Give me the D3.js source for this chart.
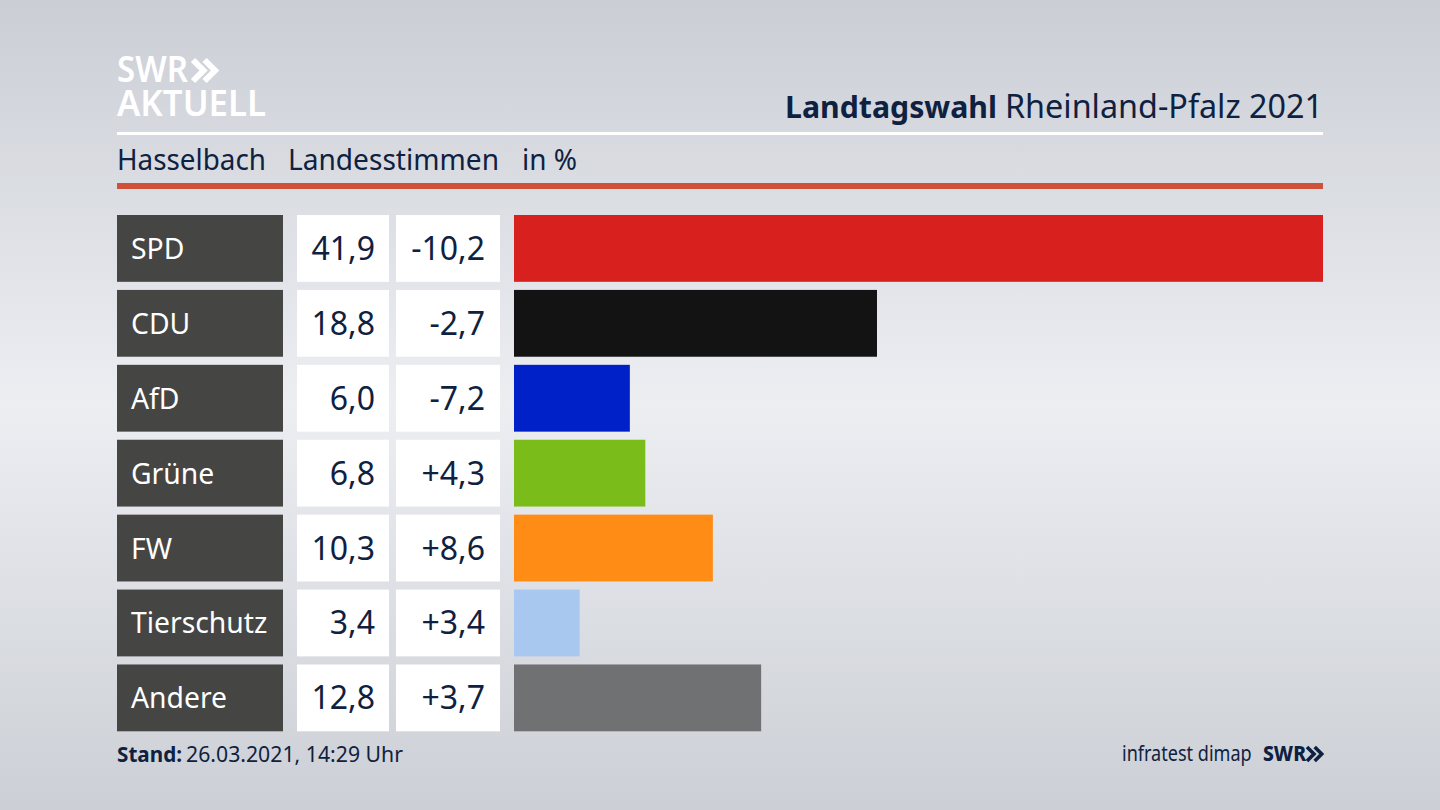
<!DOCTYPE html>
<html>
<head>
<meta charset="utf-8">
<script src="https://cdn.jsdelivr.net/npm/d3@7"></script>
<style>
  html, body { margin: 0; padding: 0; background: #e0e2e7; }
  svg { display: block; }
  text { font-family: "Noto Sans", sans-serif; }
</style>
</head>
<body>
<div id="chart"></div>
<script>
var parties = ["SPD", "CDU", "AfD", "Grüne", "FW", "Tierschutz", "Andere"];
var shares = [41.9, 18.8, 6.0, 6.8, 10.3, 3.4, 12.8];
var changes = ["-10,2", "-2,7", "-7,2", "+4,3", "+8,6", "+3,4", "+3,7"];
var partyColors = ["#d8201f", "#131313", "#0021c8", "#7abd1a", "#fe8c15", "#a9c8f0", "#707173"];

var navy = "#0f2140";
var svg = d3.select("#chart").append("svg").attr("width", 1440).attr("height", 810);

// background
var defs = svg.append("defs");
var grad = defs.append("linearGradient").attr("id", "bg").attr("x1", 0).attr("y1", 0).attr("x2", 0).attr("y2", 1);
grad.append("stop").attr("offset", "0%").attr("stop-color", "#cbced5");
grad.append("stop").attr("offset", "50%").attr("stop-color", "#eceef2");
grad.append("stop").attr("offset", "100%").attr("stop-color", "#cccfd5");
svg.append("rect").attr("width", 1440).attr("height", 810).attr("fill", "url(#bg)");

// logo, two lines in one text
var logo = svg.append("text").attr("font-size", 36).attr("font-weight", 600).attr("fill", "#fff");
logo.append("tspan").attr("x", 117).attr("y", 82)
  .attr("textLength", 71).attr("lengthAdjust", "spacingAndGlyphs").text("SWR");
logo.append("tspan").attr("x", 117).attr("y", 116)
  .attr("textLength", 149).attr("lengthAdjust", "spacingAndGlyphs").text("AKTUELL");
var chevron = function(x, y, s, color, w) {
  [0, 0.55].forEach(function(o) {
    svg.append("path")
      .attr("d", d3.line()([[x + o * s, y], [x + o * s + 0.5 * s, y + 0.5 * s], [x + o * s, y + s]]))
      .attr("fill", "none").attr("stroke", color).attr("stroke-width", w);
  });
};
chevron(193, 60, 21, "#fff", 6);

// header
svg.append("text").attr("x", 785).attr("y", 117.5).attr("font-size", 31).attr("font-weight", 700)
  .attr("fill", navy).attr("textLength", 212).attr("lengthAdjust", "spacingAndGlyphs").text("Landtagswahl");
svg.append("text").attr("x", 1005).attr("y", 117.5).attr("font-size", 32).attr("fill", navy)
  .attr("textLength", 318).attr("lengthAdjust", "spacingAndGlyphs").text("Rheinland-Pfalz 2021");
svg.append("rect").attr("x", 117).attr("y", 132).attr("width", 1206).attr("height", 3).attr("fill", "#fff");

var heads = [["Hasselbach", 117, 149], ["Landesstimmen", 288, 211], ["in %", 522, 55]];
svg.selectAll("text.head").data(heads).enter().append("text").attr("class", "head")
  .attr("x", function(d) { return d[1]; }).attr("y", 170)
  .attr("font-size", 28.5).attr("fill", navy)
  .attr("textLength", function(d) { return d[2]; }).attr("lengthAdjust", "spacingAndGlyphs")
  .text(function(d) { return d[0]; });
svg.append("rect").attr("x", 117).attr("y", 183).attr("width", 1206).attr("height", 6).attr("fill", "#cf5139");

// rows
var y = d3.scaleBand().domain(parties).range([215, 731.3]).paddingInner(0.108);
var x = d3.scaleLinear().domain([0, 41.9]).range([514, 1323]);
var rows = svg.selectAll("g.row").data(parties).enter().append("g").attr("class", "row")
  .attr("transform", function(d) { return "translate(0," + y(d) + ")"; });
var h = y.bandwidth();

rows.append("rect").attr("x", 117).attr("width", 166).attr("height", h).attr("fill", "#454543");
rows.append("text").attr("x", 131).attr("y", h / 2 + 10.5).attr("font-size", 28.3).attr("fill", "#fff")
  .text(function(d) { return d; });

rows.append("rect").attr("x", 297).attr("width", 92).attr("height", h).attr("fill", "#fff");
rows.append("text").attr("x", 375).attr("y", h / 2 + 11.5).attr("text-anchor", "end")
  .attr("font-size", 32).attr("fill", navy)
  .text(function(d, i) { return d3.format(".1f")(shares[i]).replace(".", ","); });

rows.append("rect").attr("x", 396).attr("width", 104).attr("height", h).attr("fill", "#fff");
rows.append("text").attr("x", 485).attr("y", h / 2 + 11.5).attr("text-anchor", "end")
  .attr("font-size", 32).attr("fill", navy)
  .text(function(d, i) { return changes[i]; });

rows.append("rect").attr("x", x(0)).attr("height", h)
  .attr("width", function(d, i) { return x(shares[i]) - x(0); })
  .attr("fill", function(d, i) { return partyColors[i]; });

// footer
svg.append("text").attr("x", 117).attr("y", 762).attr("font-size", 22).attr("font-weight", 700)
  .attr("fill", navy).attr("textLength", 65).attr("lengthAdjust", "spacingAndGlyphs").text("Stand:");
svg.append("text").attr("x", 186).attr("y", 762).attr("font-size", 22).attr("fill", navy)
  .attr("textLength", 217).attr("lengthAdjust", "spacingAndGlyphs").text("26.03.2021, 14:29 Uhr");
// squeezed sideways with a transform, the agency name is narrower in the original
svg.append("text").attr("transform", "translate(1122,761) scale(0.86,1)").attr("font-size", 21)
  .attr("fill", navy).text("infratest dimap");
svg.append("text").attr("x", 1263).attr("y", 761).attr("font-size", 21).attr("font-weight", 800)
  .attr("fill", navy).attr("textLength", 43).attr("lengthAdjust", "spacingAndGlyphs").text("SWR");
chevron(1307, 747, 14, navy, 3.6);
</script>
</body>
</html>
